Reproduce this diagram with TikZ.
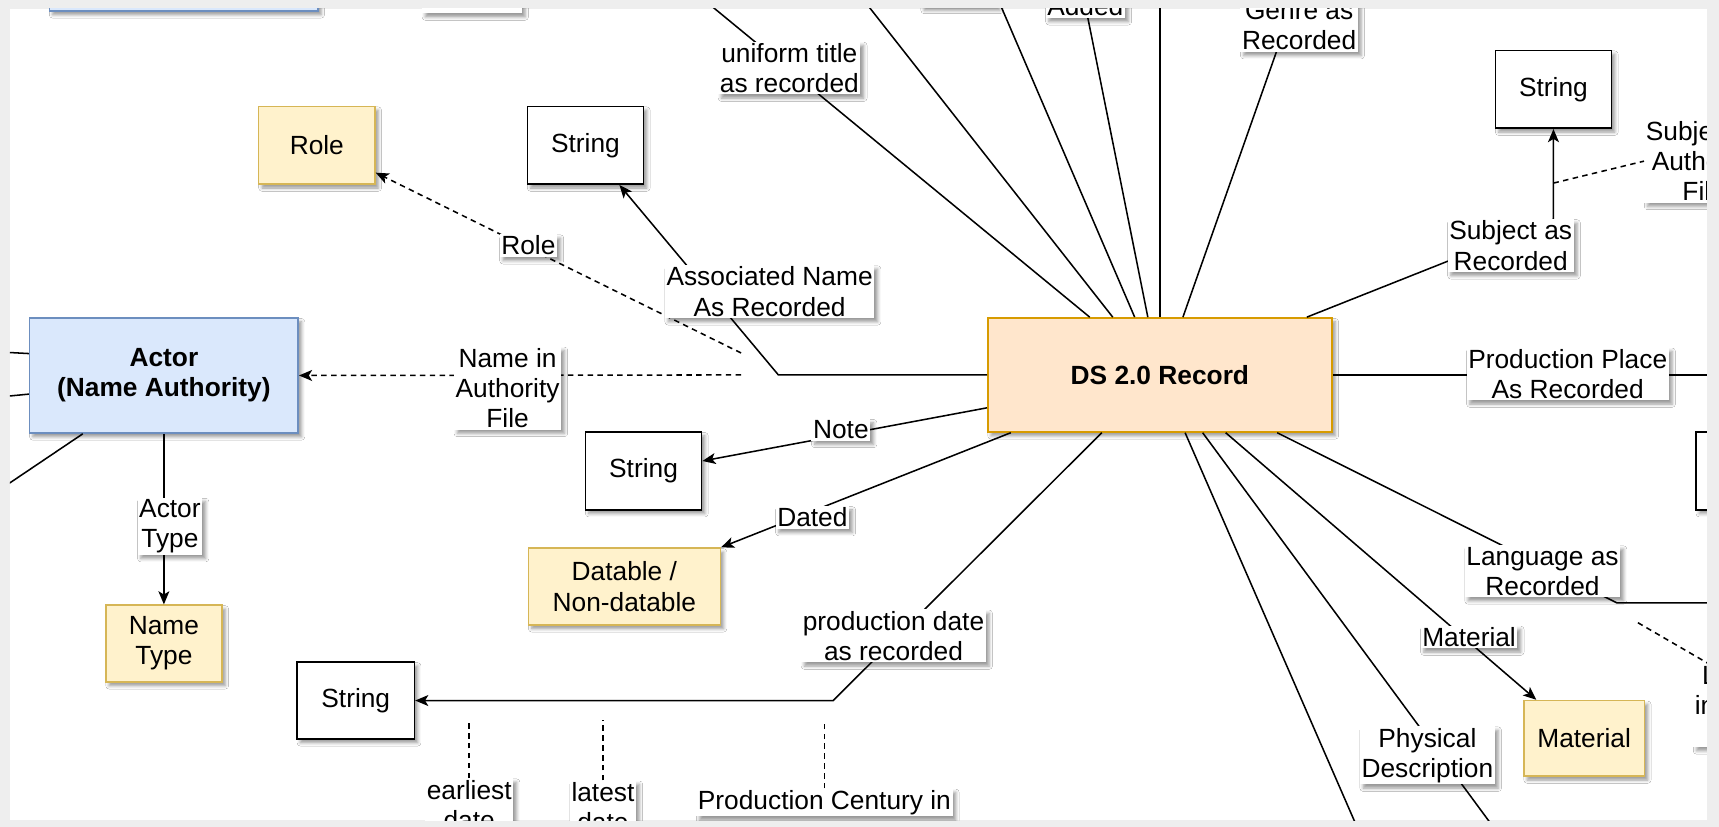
\documentclass[tikz,border=0pt]{standalone}
\usepackage{fontspec}
\setmainfont{Liberation Sans}
\usetikzlibrary{arrows.meta, shadows.blur}
\definecolor{frame}{RGB}{238,238,238}
\definecolor{recfill}{HTML}{FFE6CC}
\definecolor{recline}{HTML}{D79B00}
\definecolor{actfill}{HTML}{DAE8FC}
\definecolor{actline}{HTML}{6C8EBF}
\definecolor{vocfill}{HTML}{FFF2CC}
\definecolor{vocline}{HTML}{D6B656}
\newcommand{\lbl}{\fontsize{24}{27.5}\selectfont}

\begin{document}
\begin{tikzpicture}[x=1pt, y=-1pt,
        shade/.style = {blur shadow={shadow xshift=3pt, shadow yshift=-3.5pt, shadow blur radius=3pt, shadow opacity=40}},
        box/.style = {draw, line width=1.4pt, inner sep=0pt, align=center, font=\lbl, shade},
        record/.style = {box, fill=recfill, draw=recline, font=\lbl\bfseries},
        actor/.style = {box, fill=actfill, draw=actline, font=\lbl\bfseries},
        vocab/.style = {box, fill=vocfill, draw=vocline},
        literal/.style = {box, fill=white, draw=black, minimum width=106pt, minimum height=71pt},
        elabel/.style = {fill=white, inner sep=1.5pt, align=center, font=\lbl, shade},
        link/.style = {line width=1.4pt},
        tip/.style = {-{Stealth[length=12pt, width=10pt, inset=3pt]}},
        ref/.style = {link, dash pattern=on 5pt off 4pt}]
    \fill[frame] (0,0) rectangle (1568,754);
    \useasboundingbox (0,0) rectangle (1568,754);
    \fill[white] (9,8) rectangle (1557,748);
    \begin{scope}
        \clip (9,8) rectangle (1557,748);

        \node[record, minimum width=314pt, minimum height=104pt] (ds) at (1058,342) {DS 2.0 Record};
        \node[actor, minimum width=245pt, minimum height=105pt] (actor) at (149.5,342.5) {Actor\\(Name Authority)};
        \node[actor, minimum width=245pt, minimum height=104pt] (topactor) at (167.5,-42) {};
        \node[vocab, minimum width=106pt, minimum height=71pt] (role) at (289,132.5) {Role};
        \node[literal] (strassoc) at (534,132.5) {String};
        \node[literal] (strnote) at (587,429.5) {String};
        \node[vocab, minimum width=175pt, minimum height=70pt] (datable) at (569.5,535) {Datable /\\Non-datable};
        \node[vocab, minimum width=106pt, minimum height=70pt] (nametype) at (149.5,587) {Name\\Type};
        \node[literal, minimum width=107pt, minimum height=70pt] (strdate) at (324.5,639) {String};
        \node[literal] (strsubject) at (1417,81.5) {String};
        \node[vocab, minimum width=110pt, minimum height=69pt] (material) at (1445,673.5) {Material};
        \node[literal] (strright) at (1600,429.5) {};

        \coordinate (t1) at (618,-20);
        \coordinate (t2) at (772,-20);
        \coordinate (t3) at (902,-20);
        \coordinate (t4) at (985,-20);
        \coordinate (t5) at (1058,-20);
        \coordinate (t6) at (1188,-20);
        \coordinate (sbend) at (1417,200);
        \coordinate (sa) at (1417,167);
        \coordinate (pp) at (1600,342);
        \coordinate (lbend) at (1475,550);
        \coordinate (lend) at (1600,550);
        \coordinate (la) at (1494,568);
        \coordinate (b1) at (1249,780);
        \coordinate (b2) at (1381,780);
        \coordinate (pbend) at (760,639);
        \coordinate (abend) at (710,342);
        \coordinate (rstart) at (676,322);
        \coordinate (nstart) at (676,342);
        \coordinate (a1) at (-20,320);
        \coordinate (a2) at (-20,364);
        \coordinate (a3) at (-20,460);
        \coordinate (d1) at (428,657);
        \coordinate (d2) at (550,657);
        \coordinate (d3) at (752,657);

        \draw[link] ([xshift=-64pt]ds.north) -- (t1);
        \draw[link] ([xshift=-43pt]ds.north) -- (t2);
        \draw[link] ([xshift=-23pt]ds.north) -- (t3);
        \draw[link] ([xshift=-11pt]ds.north) -- (t4);
        \draw[link] (ds.north) -- (t5);
        \draw[link] ([xshift=21pt]ds.north) -- (t6);
        \draw[link, tip] ([xshift=134pt]ds.north) -- (sbend) -- (strsubject.south);
        \draw[link] (ds.east) -- (pp);
        \draw[link] ([xshift=107pt]ds.south) -- (lbend) -- (lend);
        \draw[link, tip] ([xshift=60pt]ds.south) -- ([xshift=12pt]material.north west);
        \draw[link] ([xshift=39pt]ds.south) -- (b2);
        \draw[link] ([xshift=23pt]ds.south) -- (b1);
        \draw[link, tip] ([xshift=-53pt]ds.south) -- (pbend) -- (strdate.east);
        \draw[link, tip] ([xshift=-136pt]ds.south) -- (datable.north east);
        \draw[link, tip] ([yshift=-30pt]ds.west) -- ([yshift=9pt]strnote.east);
        \draw[link, tip] (ds.west) -- (abend) -- ([xshift=31pt]strassoc.south);
        \draw[ref, tip] (rstart) -- ([yshift=-25pt]role.east);
        \draw[ref, tip] (nstart) -- (actor.east);
        \draw[link] ([yshift=20pt]actor.west) -- (a1);
        \draw[link] ([yshift=-17pt]actor.west) -- (a2);
        \draw[link] ([xshift=-74pt]actor.south) -- (a3);
        \draw[link, tip] (actor.south) -- (nametype.north);

        \node[elabel, minimum width=91pt, minimum height=34pt] (ltopa) at (430.5,-5) {};
        \node[elabel, minimum width=69pt, minimum height=34pt] (ltopb) at (874.5,-11) {};
        \node[elabel] (luniform) at (720,62) {uniform title\\as recorded};
        \node[elabel] (ladded) at (990,6) {Added};
        \node[elabel] (lgenre) at (1185,23.5) {Genre as\\Recorded};
        \node[elabel] (lrole) at (482,224) {Role};
        \node[elabel] (lassoc) at (702,266) {Associated Name\\As Recorded};
        \node[elabel] (lnameauth) at (463,354) {Name in\\Authority\\File};
        \node[elabel] (lnote) at (767,392) {Note};
        \node[elabel] (ldated) at (741,472) {Dated};
        \node[elabel] (lactortype) at (155,480) {Actor\\Type};
        \node[elabel] (lproddate) at (815,580) {production date\\as recorded};
        \node[elabel] (lsubject) at (1378,224) {Subject as\\Recorded};
        \node[elabel] (lsubjauth) at (1554,147) {Subject in\\Authority\\File};
        \node[elabel] (lprodplace) at (1430,341) {Production Place\\As Recorded};
        \node[elabel] (llanguage) at (1407,521) {Language as\\Recorded};
        \node[elabel] (lmaterial) at (1340,581) {Material};
        \node[elabel] (lphysical) at (1302,689) {Physical\\Description};
        \node[elabel] (llangauth) at (1606,644) {Language\\in Authority\\File};
        \node[elabel] (learliest) at (428,734) {earliest\\date};
        \node[elabel] (llatest) at (550,736) {latest\\date};
        \node[elabel] (lcentury) at (752,732) {Production Century in};

        \draw[ref] (sa) -- (lsubjauth.west);
        \draw[ref] (la) -- ([xshift=16pt]llangauth.north west);
        \draw[ref] (learliest.north) -- (d1);
        \draw[ref] (llatest.north) -- (d2);
        \draw[ref] (lcentury.north) -- (d3);
    \end{scope}
\end{tikzpicture}
\end{document}
